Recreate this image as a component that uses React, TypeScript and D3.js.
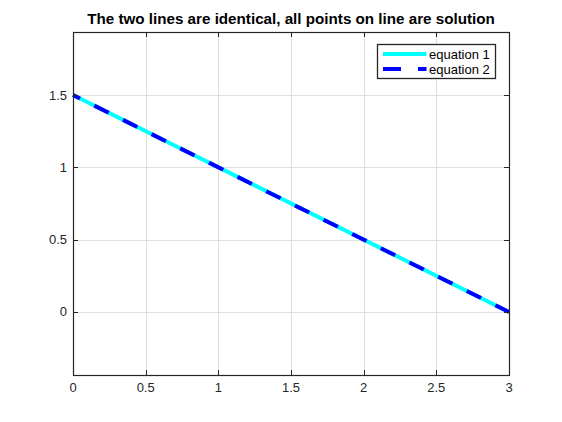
import React from "react";
import * as d3 from "d3";

const title = "The two lines are identical, all points on line are solution";
const xValues = [0, 3];
const equation1 = [1.5, 0];
const equation2 = [1.5, 0];
const seriesNames = ["equation 1", "equation 2"];
const xTicks = [0, 0.5, 1, 1.5, 2, 2.5, 3];
const yTicks = [0, 0.5, 1, 1.5];
const xDomain = [0, 3];
const yDomain = [-0.436, 1.936];

const W = 562;
const H = 422;
const L = 73;
const R = 509;
const T = 32;
const B = 375;
const AX = "#262626";
const GRID = "#dfdfdf";
const FONT = "'Liberation Sans', Arial, Helvetica, sans-serif";

export default function App() {
  const x = d3.scaleLinear().domain(xDomain).range([L, R]);
  const y = d3.scaleLinear().domain(yDomain).range([B, T]);
  const line = d3
    .line<number>()
    .x((_, i) => x(xValues[i]))
    .y((d) => y(d));
  const px = (v: number) => Math.round(v) + 0.5;

  return (
    <svg
      width={W}
      height={H}
      style={{ position: "absolute", left: 0, top: 0, background: "#fff" }}
      fontFamily={FONT}
    >
      <rect x={0} y={0} width={W} height={H} fill="#fff" />
      <rect x={L} y={T} width={R - L} height={B - T} fill="#fff" />
      {/* grid */}
      {xTicks.map((t) => (
        <line key={"gx" + t} x1={px(x(t))} x2={px(x(t))} y1={T} y2={B} stroke={GRID} strokeWidth={1} />
      ))}
      {yTicks.map((t) => (
        <line key={"gy" + t} x1={L} x2={R} y1={px(y(t))} y2={px(y(t))} stroke={GRID} strokeWidth={1} />
      ))}
      {/* data lines */}
      <path d={line(equation1) || ""} fill="none" stroke="#00ffff" strokeWidth={4} />
      <path
        d={line(equation2) || ""}
        fill="none"
        stroke="#0000ff"
        strokeWidth={4}
        strokeDasharray="16,16"
        strokeDashoffset={8.2}
      />
      {/* box */}
      <rect x={px(L)} y={px(T)} width={Math.round(R) - Math.round(L)} height={Math.round(B) - Math.round(T)} fill="none" stroke={AX} strokeWidth={1.2} />
      {/* ticks */}
      {xTicks.map((t) => (
        <g key={"tx" + t}>
          <line x1={px(x(t))} x2={px(x(t))} y1={B} y2={B - 5} stroke={AX} strokeWidth={1} />
          <line x1={px(x(t))} x2={px(x(t))} y1={T} y2={T + 5} stroke={AX} strokeWidth={1} />
          <text x={x(t)} y={392} textAnchor="middle" fontSize={13} fill={AX}>
            {String(t)}
          </text>
        </g>
      ))}
      {yTicks.map((t) => (
        <g key={"ty" + t}>
          <line x1={L} x2={L + 5} y1={px(y(t))} y2={px(y(t))} stroke={AX} strokeWidth={1} />
          <line x1={R} x2={R - 5} y1={px(y(t))} y2={px(y(t))} stroke={AX} strokeWidth={1} />
          <text x={L - 6} y={y(t) + 4.5} textAnchor="end" fontSize={13} fill={AX}>
            {String(t)}
          </text>
        </g>
      ))}
      {/* title */}
      <text x={(L + R) / 2} y={24} textAnchor="middle" fontSize={15.2} fontWeight="bold" fill="#000">
        {title}
      </text>
      {/* legend */}
      <rect x={377.5} y={44.5} width={118} height={34} fill="#fff" stroke={AX} strokeWidth={1.3} />
      <line x1={383} x2={426.5} y1={54} y2={54} stroke="#00ffff" strokeWidth={4} />
      <line x1={383} x2={426.5} y1={69} y2={69} stroke="#0000ff" strokeWidth={4} strokeDasharray="18,17" />
      <text x={429} y={58.5} fontSize={13} fill="#000">
        {seriesNames[0]}
      </text>
      <text x={429} y={73.5} fontSize={13} fill="#000">
        {seriesNames[1]}
      </text>
    </svg>
  );
}
